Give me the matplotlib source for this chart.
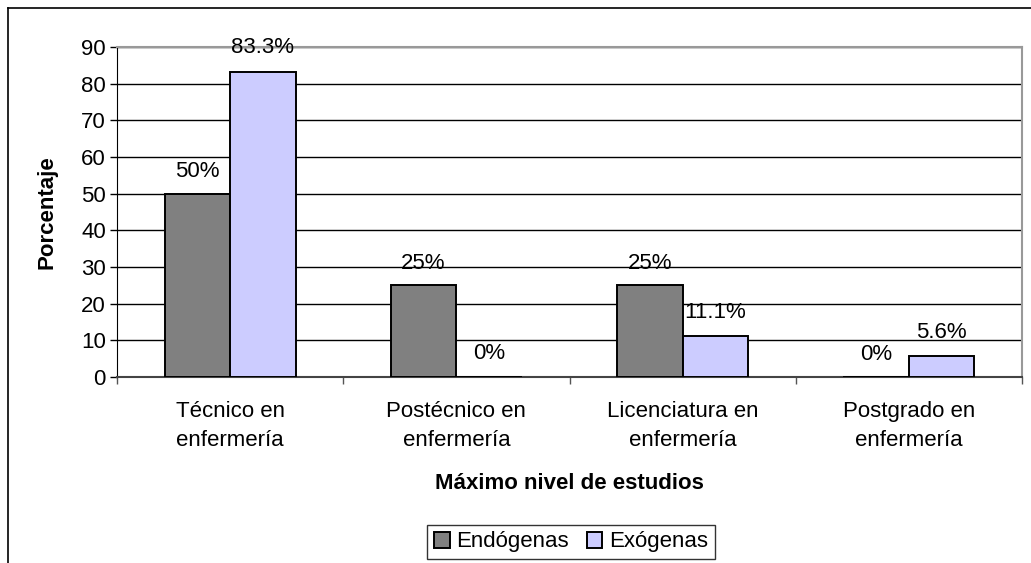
#! /usr/bin/env python
# -*- coding: utf-8 -*-

# Bar chart: maximum study level, endogenous vs exogenous (percent)

import matplotlib
matplotlib.use("Agg")
import matplotlib.pyplot as plt
from matplotlib.lines import Line2D
import numpy as np

categories = ["Técnico en\nenfermería", "Postécnico en\nenfermería",
              "Licenciatura en\nenfermería", "Postgrado en\nenfermería"]
endogenas = [50, 25, 25, 0]
exogenas = [83.3, 0, 11.1, 5.6]
endogenas_labels = ["50%", "25%", "25%", "0%"]
exogenas_labels = ["83.3%", "0%", "11.1%", "5.6%"]
yticks = [0, 10, 20, 30, 40, 50, 60, 70, 80, 90]

plt.rcParams['font.family'] = ['Liberation Sans', 'DejaVu Sans']
FS = 16

W, H = 1031, 563
fig = plt.figure(figsize=(W / 100, H / 100), dpi=100)
ax = fig.add_axes([117 / W, 1 - 377 / H, (1022 - 117) / W, (377 - 47) / H])

x = np.arange(len(categories))
bw = 0.29
ax.bar(x - bw / 2, endogenas, bw, color="#808080", edgecolor="black",
       linewidth=1.4, label="Endógenas", zorder=3)
ax.bar(x + bw / 2, exogenas, bw, color="#CCCCFF", edgecolor="black",
       linewidth=1.4, label="Exógenas", zorder=3)

# value labels above bars
for i in range(len(categories)):
    ax.annotate(endogenas_labels[i], (x[i] - bw / 2, endogenas[i]),
                xytext=(0, 16), textcoords="offset points",
                ha="center", va="center", fontsize=FS, zorder=4)
    ax.annotate(exogenas_labels[i], (x[i] + bw / 2, exogenas[i]),
                xytext=(0, 17), textcoords="offset points",
                ha="center", va="center", fontsize=FS, zorder=4)

ax.set_xlim(-0.5, len(categories) - 0.5)
ax.set_ylim(0, 90)
ax.set_yticks(yticks)
ax.yaxis.grid(True, color="black", linewidth=1, zorder=0)
ax.set_axisbelow(True)

# category labels centered, ticks between groups
ax.set_xticks(x)
ax.set_xticklabels(categories, fontsize=FS, linespacing=1.5)
ax.tick_params(axis="x", length=0, pad=17)
ax.set_xticks(np.arange(-0.5, len(categories)), minor=True)
ax.tick_params(axis="x", which="minor", length=5, width=1, color="#555555")
ax.tick_params(axis="y", labelsize=FS, length=5, width=1, pad=3)

for side in ["top", "right"]:
    ax.spines[side].set_color("#999999")
    ax.spines[side].set_linewidth(1.5)
ax.spines["left"].set_color("black")
ax.spines["bottom"].set_color("#444444")
ax.spines["bottom"].set_linewidth(1.5)

ax.set_xlabel("Máximo nivel de estudios", fontsize=FS, fontweight="bold",
              labelpad=16)
ax.set_ylabel("Porcentaje", fontsize=FS, fontweight="bold", labelpad=17)

leg = ax.legend(loc="center", ncol=2, frameon=True, fancybox=False,
                fontsize=FS, handlelength=0.7, handleheight=0.7,
                handletextpad=0.3, columnspacing=0.8, borderpad=0.3,
                borderaxespad=0)
leg.get_frame().set_edgecolor("black")
leg.get_frame().set_linewidth(1)
leg.set_bbox_to_anchor((571 / W, 1 - 542 / H), transform=fig.transFigure)

# outer chart frame (left and top edges visible)
fig.add_artist(Line2D([8 / W, 8 / W], [0, 1 - 8 / H], transform=fig.transFigure,
                      color="black", linewidth=1.2))
fig.add_artist(Line2D([8 / W, 1], [1 - 8 / H, 1 - 8 / H], transform=fig.transFigure,
                      color="black", linewidth=1.2))

fig.savefig("out.png", dpi=100)
